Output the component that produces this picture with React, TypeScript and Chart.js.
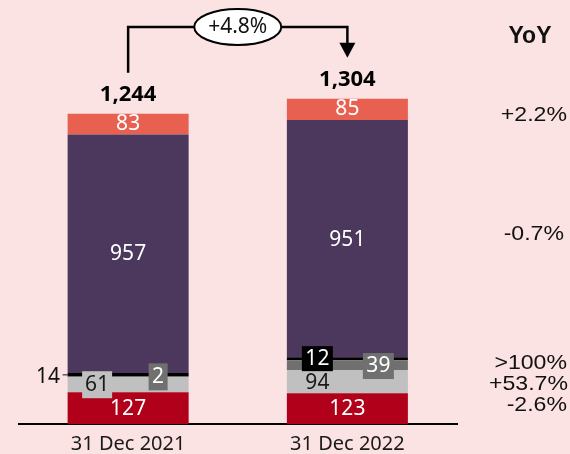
import { useEffect, useRef } from "react";
import { Chart, registerables } from "chart.js";

Chart.register(...registerables);

// ---------- data ----------
const categories = ["31 Dec 2021", "31 Dec 2022"];
const seriesNames = ["Red", "Light grey", "Dark grey", "Black", "Purple", "Salmon"];
const redValues = [127, 123];
const lightGreyValues = [61, 94];
const darkGreyValues = [2, 39];
const blackValues = [14, 12];
const purpleValues = [957, 951];
const salmonValues = [83, 85];
const yoyTitle = "YoY";
const yoyLabels = ["+2.2%", "-0.7%", ">100%", "+53.7%", "-2.6%"];

// ---------- styles ----------
const BG = "#FCE3E3";
const seriesColors = ["#B0001A", "#C0C0C0", "#707070", "#000000", "#4B385C", "#E8604F"];
const LABEL_FONT = '21px "Noto Sans"';
const TOTAL_FONT = 'bold 22px "Noto Sans"';

type LabelStyle = {
  dx: number;
  dy: number;
  color: string;
  box?: string;
  bw?: number;
  bh?: number;
  left?: boolean;
};

const labelStyles: LabelStyle[][] = [
  [
    { dx: 0, dy: 0, color: "#ffffff" },
    { dx: 0, dy: 0, color: "#ffffff" },
  ],
  [
    { dx: -31, dy: 0, color: "#1a1a1a", box: "#C0C0C0", bw: 30, bh: 27 },
    { dx: -30, dy: 1, color: "#1a1a1a" },
  ],
  [
    { dx: 30, dy: 0, color: "#ffffff", box: "#707070", bw: 19, bh: 27 },
    { dx: 31, dy: 1, color: "#ffffff", box: "#707070", bw: 31, bh: 26 },
  ],
  [
    { dx: 0, dy: 2, color: "#111111", left: true },
    { dx: -30, dy: 0, color: "#ffffff", box: "#000000", bw: 31, bh: 25 },
  ],
  [
    { dx: 0, dy: 0, color: "#ffffff" },
    { dx: 0, dy: 1, color: "#ffffff" },
  ],
  [
    { dx: 0, dy: -1, color: "#ffffff" },
    { dx: 0, dy: -1, color: "#ffffff" },
  ],
];

const yoyRight = [567, 564, 567, 568, 567];
const yoyY = [114.5, 234, 362.5, 384, 404.5];

const overlayPlugin = {
  id: "overlay",
  beforeDraw(chart: any) {
    const ctx = chart.ctx;
    ctx.save();
    ctx.fillStyle = BG;
    ctx.fillRect(0, 0, chart.width, chart.height);
    ctx.restore();
  },
  afterDatasetsDraw(chart: any) {
    const ctx: CanvasRenderingContext2D = chart.ctx;
    const yScale = chart.scales.y;
    ctx.save();
    ctx.textAlign = "center";
    ctx.textBaseline = "middle";

    // segment labels
    chart.data.datasets.forEach((ds: any, i: number) => {
      const meta = chart.getDatasetMeta(i);
      meta.data.forEach((el: any, j: number) => {
        const v = ds.data[j];
        const st = labelStyles[i][j];
        const cy = (el.y + el.base) / 2;
        const cx = el.x;
        ctx.font = LABEL_FONT;
        if (st.left) {
          const leftEdge = cx - el.width / 2;
          ctx.strokeStyle = "#111";
          ctx.lineWidth = 1;
          ctx.beginPath();
          ctx.moveTo(leftEdge - 5, cy);
          ctx.lineTo(leftEdge, cy);
          ctx.stroke();
          ctx.fillStyle = st.color;
          ctx.textAlign = "right";
          ctx.fillText(String(v), leftEdge - 7.5, cy + st.dy);
          ctx.textAlign = "center";
          return;
        }
        const x = cx + st.dx;
        const y = cy + st.dy;
        if (st.box) {
          ctx.fillStyle = st.box;
          ctx.fillRect(x - st.bw! / 2, y - st.bh! / 2, st.bw!, st.bh!);
        }
        ctx.fillStyle = st.color;
        ctx.fillText(String(v), x, y + 0.5);
      });
    });

    // totals
    const lastMeta = chart.getDatasetMeta(chart.data.datasets.length - 1);
    const totals = categories.map((_, j) =>
      chart.data.datasets.reduce((s: number, ds: any) => s + ds.data[j], 0)
    );
    const tops = totals.map((t: number) => yScale.getPixelForValue(t));
    const xs = lastMeta.data.map((el: any) => el.x);
    ctx.font = TOTAL_FONT;
    ctx.fillStyle = "#000";
    ctx.textBaseline = "alphabetic";
    totals.forEach((t: number, j: number) => {
      ctx.fillText(t.toLocaleString("en-US"), xs[j], tops[j] - 12.5);
    });

    // arrow
    const yLine = 27;
    ctx.strokeStyle = "#000";
    ctx.lineWidth = 2.5;
    ctx.beginPath();
    ctx.moveTo(xs[0], tops[0] - 41);
    ctx.lineTo(xs[0], yLine);
    ctx.lineTo(xs[1], yLine);
    ctx.lineTo(xs[1], tops[1] - 55);
    ctx.stroke();
    ctx.fillStyle = "#000";
    ctx.beginPath();
    ctx.moveTo(xs[1] - 8, tops[1] - 56);
    ctx.lineTo(xs[1] + 8, tops[1] - 56);
    ctx.lineTo(xs[1], tops[1] - 41);
    ctx.closePath();
    ctx.fill();

    // growth ellipse
    const mx = (xs[0] + xs[1]) / 2;
    ctx.beginPath();
    ctx.ellipse(mx, yLine, 43.5, 18, 0, 0, Math.PI * 2);
    ctx.fillStyle = "#fff";
    ctx.fill();
    ctx.lineWidth = 2;
    ctx.stroke();
    const growth = (totals[1] / totals[0] - 1) * 100;
    ctx.font = '21px "Noto Sans"';
    ctx.fillStyle = "#111";
    ctx.textAlign = "center";
    ctx.textBaseline = "middle";
    ctx.fillText((growth >= 0 ? "+" : "") + growth.toFixed(1) + "%", mx, yLine + 0.5);

    // YoY column
    ctx.font = 'bold 23px "Liberation Sans"';
    ctx.fillStyle = "#111";
    ctx.fillText(yoyTitle, 530, 36.5);
    ctx.font = '21px "Liberation Sans"';
    ctx.textAlign = "right";
    yoyLabels.forEach((t, k) => {
      ctx.save();
      ctx.translate(yoyRight[k], yoyY[k] + 0.5);
      ctx.scale(1.1, 1);
      ctx.fillText(t, 0, 0);
      ctx.restore();
    });
    ctx.restore();
  },
};

export default function App() {
  const ref = useRef<HTMLCanvasElement | null>(null);
  useEffect(() => {
    if (!ref.current) return;
    const series = [redValues, lightGreyValues, darkGreyValues, blackValues, purpleValues, salmonValues];
    const chart = new Chart(ref.current, {
      type: "bar",
      data: {
        labels: categories,
        datasets: series.map((d, i) => ({
          label: seriesNames[i],
          data: d,
          backgroundColor: seriesColors[i],
          borderWidth: 0,
          categoryPercentage: 1,
          barPercentage: 0.552,
        })),
      },
      options: {
        responsive: true,
        maintainAspectRatio: false,
        animation: false,
        layout: { padding: { left: 18.5, right: 113, top: 0, bottom: 0 } },
        plugins: { legend: { display: false }, tooltip: { enabled: false } },
        scales: {
          x: {
            stacked: true,
            grid: { display: false, drawTicks: false },
            border: { display: true, color: "#000", width: 2 },
            ticks: { color: "#1a1a1a", font: { family: "Noto Sans", size: 20 }, padding: 8 },
            afterFit: (scale: any) => {
              scale.height = 30;
            },
          },
          y: {
            stacked: true,
            display: false,
            min: 0,
            max: 1700,
          },
        },
      },
      plugins: [overlayPlugin],
    });
    return () => chart.destroy();
  }, []);
  return (
    <div style={{ position: "fixed", left: 0, top: 0, width: 570, height: 454, background: BG }}>
      <canvas ref={ref} />
    </div>
  );
}
